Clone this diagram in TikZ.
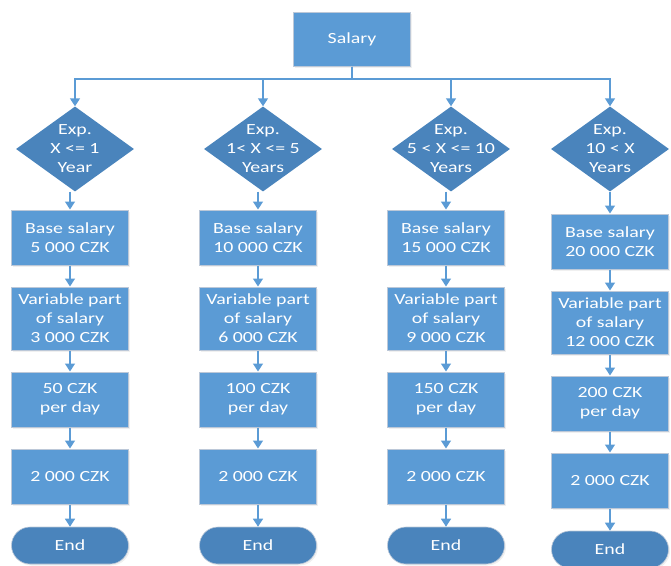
\documentclass[tikz,border=0pt]{standalone}
\usepackage{fontspec}
\setmainfont{Carlito}[FakeStretch=1.28]
\usetikzlibrary{shapes.geometric, shapes.misc, arrows.meta, shadows}

\definecolor{boxblue}{HTML}{5B9BD5}
\definecolor{darkblue}{HTML}{4A84BC}
\definecolor{rimgrey}{HTML}{BCC8D8}

\begin{document}
\begin{tikzpicture}[
    x=1pt, y=-1pt,
    font=\fontsize{15.5}{19}\selectfont,
    process/.style={rectangle, draw=rimgrey, line width=1pt, fill=boxblue, text=white,
        align=center, minimum width=117pt, minimum height=55pt, inner sep=0pt,
        drop shadow={opacity=0.12, shadow xshift=1.5pt, shadow yshift=-1.5pt}},
    tallbox/.style={process, minimum height=63pt},
    decision/.style={diamond, fill=darkblue, minimum width=118pt, minimum height=85pt,
        inner sep=0pt, aspect=1.39},
    dtext/.style={text=white, align=center},
    terminal/.style={rounded rectangle, draw=rimgrey, line width=0.6pt, fill=darkblue,
        text=white, minimum width=117pt, minimum height=37pt, inner sep=0pt,
        drop shadow={opacity=0.12, shadow xshift=1.5pt, shadow yshift=-1.5pt}},
    arrow/.style={draw=boxblue, line width=1.4pt, -{Triangle[width=10pt,length=8pt]}}
]
\useasboundingbox (0,0) rectangle (671,565);

% Start
\node[process, minimum height=54pt] (salary) at (352, 39) {Salary};
\coordinate (bus) at (352, 79);

% Decisions
\node[decision, label={[dtext]center:Exp.\\X <= 1\\Year}] (d1) at (75, 149) {};
\node[decision, label={[dtext]center:Exp.\\1< X <= 5\\Years}] (d2) at (263, 149) {};
\node[decision, label={[dtext]center:Exp.\\5 < X <= 10\\Years}] (d3) at (451, 149) {};
\node[decision, label={[dtext]center:Exp.\\10 < X\\Years}] (d4) at (610, 149) {};

% Column 1
\node[process] (base1) at (70, 237.5) {Base salary\\5 000 CZK};
\node[tallbox] (var1) at (70, 318.5) {Variable part\\of salary\\3 000 CZK};
\node[process] (day1) at (70, 399.5) {50 CZK\\per day};
\node[process] (pay1) at (70, 476.5) {2 000 CZK};
\node[terminal] (end1) at (70, 545.5) {End};

% Column 2
\node[process] (base2) at (258, 237.5) {Base salary\\10 000 CZK};
\node[tallbox] (var2) at (258, 318.5) {Variable part\\of salary\\6 000 CZK};
\node[process] (day2) at (258, 399.5) {100 CZK\\per day};
\node[process] (pay2) at (258, 476.5) {2 000 CZK};
\node[terminal] (end2) at (258, 545.5) {End};

% Column 3
\node[process] (base3) at (446, 237.5) {Base salary\\15 000 CZK};
\node[tallbox] (var3) at (446, 318.5) {Variable part\\of salary\\9 000 CZK};
\node[process] (day3) at (446, 399.5) {150 CZK\\per day};
\node[process] (pay3) at (446, 476.5) {2 000 CZK};
\node[terminal] (end3) at (446, 545.5) {End};

% Column 4
\node[process] (base4) at (610, 241.5) {Base salary\\20 000 CZK};
\node[tallbox] (var4) at (610, 322.5) {Variable part\\of salary\\12 000 CZK};
\node[process] (day4) at (610, 403.5) {200 CZK\\per day};
\node[process] (pay4) at (610, 480.5) {2 000 CZK};
\node[terminal] (end4) at (610, 549.5) {End};

% Branches
\draw[arrow] (salary.south) -- (bus) -| (d1.north);
\draw[arrow] (salary.south) -- (bus) -| (d2.north);
\draw[arrow] (salary.south) -- (bus) -| (d3.north);
\draw[arrow] (salary.south) -- (bus) -| (d4.north);

% Flow down each column
\draw[arrow] (d1.south -| base1.north) -- (base1);
\draw[arrow] (base1) -- (var1);
\draw[arrow] (var1) -- (day1);
\draw[arrow] (day1) -- (pay1);
\draw[arrow] (pay1) -- (end1);

\draw[arrow] (d2.south -| base2.north) -- (base2);
\draw[arrow] (base2) -- (var2);
\draw[arrow] (var2) -- (day2);
\draw[arrow] (day2) -- (pay2);
\draw[arrow] (pay2) -- (end2);

\draw[arrow] (d3.south -| base3.north) -- (base3);
\draw[arrow] (base3) -- (var3);
\draw[arrow] (var3) -- (day3);
\draw[arrow] (day3) -- (pay3);
\draw[arrow] (pay3) -- (end3);

\draw[arrow] (d4) -- (base4);
\draw[arrow] (base4) -- (var4);
\draw[arrow] (var4) -- (day4);
\draw[arrow] (day4) -- (pay4);
\draw[arrow] (pay4) -- (end4);

\end{tikzpicture}
\end{document}
